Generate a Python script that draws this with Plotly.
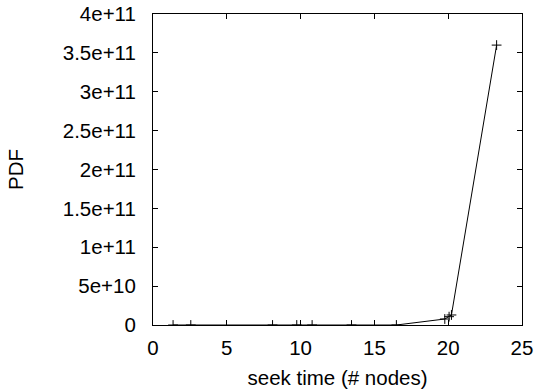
import plotly.graph_objects as go

seek_time = [1.36, 2.56, 8.1, 9.74, 10.78, 13.45, 16.49, 19.77, 20.06, 20.22, 23.28]
pdf = [0, 0, 0, 0, 0, 0, 0, 7.7e9, 1.07e10, 1.29e10, 3.60e11]

x_ticks = [0, 5, 10, 15, 20, 25]
y_ticks = [0, 5e10, 1e11, 1.5e11, 2e11, 2.5e11, 3e11, 3.5e11, 4e11]
y_tick_labels = ["0", "5e+10", "1e+11", "1.5e+11", "2e+11", "2.5e+11", "3e+11", "3.5e+11", "4e+11"]

font = dict(family="Liberation Sans, Arial, Helvetica, sans-serif", size=20.5, color="black")

fig = go.Figure()
fig.add_trace(go.Scatter(
    x=seek_time, y=pdf, mode="lines+markers",
    line=dict(color="black", width=1),
    marker=dict(symbol="cross-thin", size=7, line=dict(color="black", width=1), color="black"),
    showlegend=False,
))

axis_common = dict(
    showline=True, linecolor="black", linewidth=1, mirror="allticks",
    ticks="inside", ticklen=5, tickwidth=1, tickcolor="black",
    showgrid=False, zeroline=False, tickfont=font, automargin=False,
)

fig.update_layout(
    width=536, height=389,
    margin=dict(l=153, r=14, t=14, b=64),
    paper_bgcolor="white", plot_bgcolor="white",
    font=font,
    xaxis=dict(range=[0, 25], tickvals=x_ticks, ticktext=[str(v) for v in x_ticks],
               title=dict(text="seek time (# nodes)", font=font, standoff=16),
               ticklabelstandoff=4, **axis_common),
    yaxis=dict(range=[0, 4e11], tickvals=y_ticks, ticktext=y_tick_labels,
               title=dict(text="PDF", font=font, standoff=33),
               ticklabelstandoff=12, **axis_common),
)

fig.write_html("out.html", config={"displayModeBar": False},
               post_script="document.body.style.margin='0';document.body.style.overflow='hidden';")
